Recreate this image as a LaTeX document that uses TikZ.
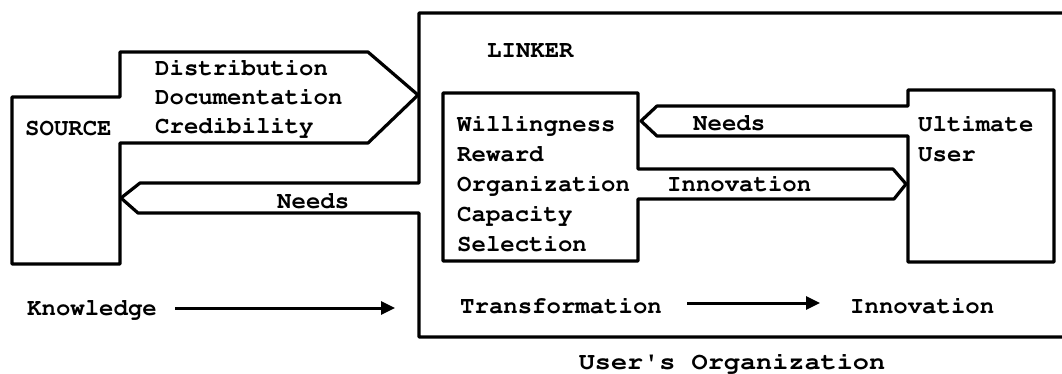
\documentclass[tikz,border=0pt]{standalone}
\usepackage[T1]{fontenc}
\renewcommand{\familydefault}{pcr}
\usetikzlibrary{arrows.meta}
\begin{document}
\begin{tikzpicture}[x=1pt,y=-1pt,
  outline/.style={line width=3.2pt,line join=round,line cap=round},
  conn/.style={line width=3pt,-{Triangle[length=14pt,width=13pt]}},
  txt/.style={anchor=base west,inner sep=0pt,font=\fontsize{24}{29}\selectfont\bfseries}]
\useasboundingbox (0,0) rectangle (1062,373);

% SOURCE box joined with the outgoing transfer arrow
\draw[outline] (120,143) -- (120,264) -- (12,264) -- (12,97) -- (120,97) -- (120,52)
  -- (368,52) -- (418,95) -- (368,143) -- cycle;

% LINKER (user's organization) frame with the Needs arrow back to the source
\draw[outline] (1062,13) -- (419,13) -- (419,183) -- (140,183) -- (121,198)
  -- (138,213) -- (419,213) -- (419,337) -- (1062,337);

% Linker attribute box with the Innovation arrow to the ultimate user
\draw[outline] (638,199) -- (638,261) -- (443,261) -- (443,93) -- (638,93) -- (638,169)
  -- (893,169) -- (906,184) -- (894,199) -- cycle;

% Ultimate user box with its Needs arrow to the linker
\draw[outline] (908,136) -- (908,262) -- (1054,262) -- (1054,90) -- (908,90) -- (908,106)
  -- (657,106) -- (641,121) -- (657,136) -- cycle;

% Labels
\node[txt] (src)  at (25,135)  {SOURCE};
\node[txt] (dist) at (155,75)  {Distribution};
\node[txt] (doc)  at (155,104) {Documentation};
\node[txt] (cred) at (155,133) {Credibility};
\node[txt] (linker) at (487,57) {LINKER};
\node[txt] (will) at (457,131) {Willingness};
\node[txt] (rew)  at (457,161) {Reward};
\node[txt] (org)  at (457,191) {Organization};
\node[txt] (cap)  at (457,221) {Capacity};
\node[txt] (sel)  at (457,251) {Selection};
\node[txt] (needsA) at (693,130) {Needs};
\node[txt] (innovA) at (667,191) {Innovation};
\node[txt] (ult)  at (918,131) {Ultimate};
\node[txt] (usr)  at (918,161) {User};
\node[txt] (needsB) at (277,208) {Needs};
\node[txt] (know) at (27,315)  {Knowledge};
\node[txt] (trans) at (460,313) {Transformation};
\node[txt] (innovB) at (850,313) {Innovation};
\node[txt,anchor=base] (userorg) at (732,369) {\scalebox{1.12}[1]{User\textquotesingle s Organization}};

% Flow arrows
\coordinate (kend) at (395,308);
\draw[conn] ([xshift=18pt,yshift=7pt]know.base east) -- (kend);
\draw[conn] ([xshift=25pt,yshift=10pt]trans.base east) -- ([xshift=-30pt,yshift=10pt]innovB.base west);
\end{tikzpicture}
\end{document}
